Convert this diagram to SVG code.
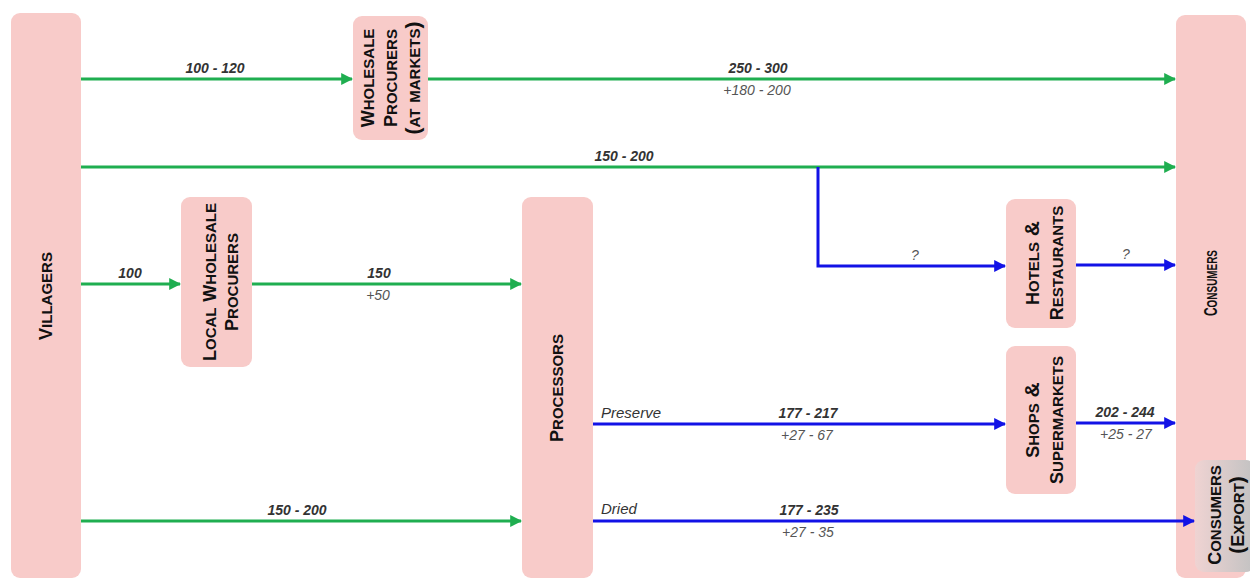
<svg xmlns="http://www.w3.org/2000/svg" width="1250" height="580" viewBox="0 0 1250 580">
<defs>
<style>
.node{fill:#f8cbc9;stroke:none}
.nt{font-family:"Liberation Sans",Arial,sans-serif;font-weight:bold;font-variant:small-caps;font-size:21px;fill:#111;text-anchor:middle}
.c{font-size:18px}
.g{stroke:#1fae50;stroke-width:3;fill:none}
.b{stroke:#1212e6;stroke-width:3;fill:none}
.lb{font-family:"Liberation Sans",Arial,sans-serif;font-style:italic;font-weight:bold;font-size:14px;fill:#333;text-anchor:middle}
.ls{font-family:"Liberation Sans",Arial,sans-serif;font-style:italic;font-size:14px;fill:#555;text-anchor:middle}
.lp{font-family:"Liberation Sans",Arial,sans-serif;font-style:italic;font-size:15px;fill:#333;text-anchor:start}
</style>
<marker id="ag" viewBox="0 0 10 10" refX="9" refY="5" markerWidth="4" markerHeight="4" orient="auto" markerUnits="strokeWidth"><path d="M0,0 L10,5 L0,10 z" fill="#1fae50"/></marker>
<marker id="ab" viewBox="0 0 10 10" refX="9" refY="5" markerWidth="4" markerHeight="4" orient="auto" markerUnits="strokeWidth"><path d="M0,0 L10,5 L0,10 z" fill="#1212e6"/></marker>
<linearGradient id="gx" x1="0" y1="0" x2="1" y2="0"><stop offset="0" stop-color="#efd3d2"/><stop offset="1" stop-color="#c2c2c2"/></linearGradient>
</defs>
<rect width="1250" height="580" fill="#fff"/>

<g id="villagers"><rect class="node" x="11" y="13" width="70" height="565" rx="9"/><text class="nt" transform="translate(46,296) rotate(-90)" y="6"><tspan class="c">V</tspan>illagers</text></g>
<g id="wholesale"><rect class="node" x="353" y="16" width="75" height="124" rx="9"/><text class="nt" transform="translate(391,78) rotate(-90)"><tspan x="0" y="-17"><tspan class="c">W</tspan>holesale</tspan><tspan x="0" y="6"><tspan class="c">P</tspan>rocurers</tspan><tspan x="0" y="29">(at markets)</tspan></text></g>
<g id="local"><rect class="node" x="181" y="197" width="71" height="170" rx="9"/><text class="nt" transform="translate(221,282) rotate(-90)"><tspan x="0" y="-5"><tspan class="c">L</tspan>ocal <tspan class="c">W</tspan>holesale</tspan><tspan x="0" y="17"><tspan class="c">P</tspan>rocurers</tspan></text></g>
<g id="processors"><rect class="node" x="522" y="197" width="71" height="381" rx="9"/><text class="nt" transform="translate(557,388) rotate(-90)" y="6"><tspan class="c">P</tspan>rocessors</text></g>
<g id="hotels"><rect class="node" x="1006" y="199" width="70" height="129" rx="9"/><text class="nt" transform="translate(1045,263) rotate(-90)"><tspan x="0" y="-6"><tspan class="c">H</tspan>otels &amp;</tspan><tspan x="0" y="18"><tspan class="c">R</tspan>estaurants</tspan></text></g>
<g id="shops"><rect class="node" x="1006" y="346" width="70" height="148" rx="9"/><text class="nt" transform="translate(1045,420) rotate(-90)"><tspan x="0" y="-6"><tspan class="c">S</tspan>hops &amp;</tspan><tspan x="0" y="18"><tspan class="c">S</tspan>upermarkets</tspan></text></g>
<g id="consumers"><rect class="node" x="1176" y="15" width="70" height="563" rx="9"/><text class="nt" transform="translate(1211,283) rotate(-90)" y="6" textLength="66" lengthAdjust="spacingAndGlyphs"><tspan class="c">C</tspan>onsumers</text></g>
<g id="export"><rect x="1195" y="460" width="60" height="112" rx="9" fill="url(#gx)"/><text class="nt" transform="translate(1227,515) rotate(-90)"><tspan x="0" y="-6"><tspan class="c">C</tspan>onsumers</tspan><tspan x="0" y="17">(<tspan class="c">E</tspan>xport)</tspan></text></g>

<g id="connectors">
<path class="g" d="M81,79 H352" marker-end="url(#ag)"/>
<path class="g" d="M428,79 H1175" marker-end="url(#ag)"/>
<path class="g" d="M81,167 H1175" marker-end="url(#ag)"/>
<path class="b" d="M818,167 V266 H1005" marker-end="url(#ab)"/>
<path class="b" d="M1076,265 H1175" marker-end="url(#ab)"/>
<path class="g" d="M81,284 H180" marker-end="url(#ag)"/>
<path class="g" d="M252,284 H521" marker-end="url(#ag)"/>
<path class="b" d="M593,424 H1005" marker-end="url(#ab)"/>
<path class="b" d="M1076,423 H1175" marker-end="url(#ab)"/>
<path class="g" d="M81,521 H521" marker-end="url(#ag)"/>
<path class="b" d="M593,521 H1194" marker-end="url(#ab)"/>

<text class="lb" x="215" y="73">100 - 120</text>
<text class="lb" x="758" y="73">250 - 300</text>
<text class="ls" x="757" y="95">+180 - 200</text>
<text class="lb" x="624" y="161">150 - 200</text>
<text class="ls" x="915" y="260">?</text>
<text class="ls" x="1126" y="259">?</text>
<text class="lb" x="130" y="278">100</text>
<text class="lb" x="379" y="278">150</text>
<text class="ls" x="378" y="300">+50</text>
<text class="lp" x="601" y="418">Preserve</text>
<text class="lb" x="808" y="418">177 - 217</text>
<text class="ls" x="807" y="440">+27 - 67</text>
<text class="lb" x="1125" y="417">202 - 244</text>
<text class="ls" x="1126" y="439">+25 - 27</text>
<text class="lb" x="297" y="515">150 - 200</text>
<text class="lp" x="601" y="514">Dried</text>
<text class="lb" x="809" y="515">177 - 235</text>
<text class="ls" x="808" y="537">+27 - 35</text>
</g>
</svg>
